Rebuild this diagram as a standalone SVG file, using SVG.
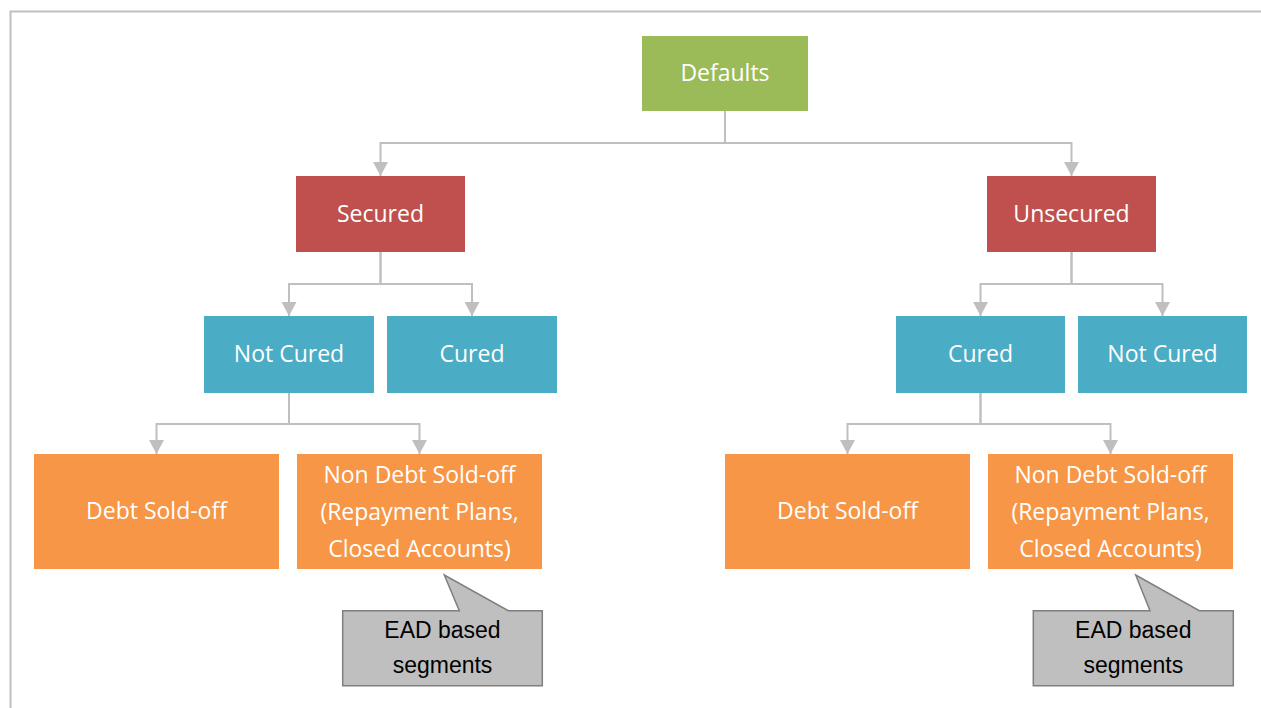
<svg xmlns="http://www.w3.org/2000/svg" width="1261" height="708" viewBox="0 0 1261 708">
<style>
.t{font-family:"Open Sans","Liberation Sans",sans-serif;font-size:23px;fill:#FFFFFF;text-anchor:middle}
.c{font-family:"Liberation Sans",Arial,sans-serif;font-size:23px;fill:#000000;text-anchor:middle}
.green{fill:#9BBB59}
.red{fill:#C0504D}
.blue{fill:#4BACC6}
.orange{fill:#F79646}
.call{fill:#BFBFBF;stroke:#7F7F7F;stroke-width:1.5}
.conn{fill:none;stroke:#BFBFBF;stroke-width:2;marker-end:url(#arr)}
</style>
<defs>
<marker id="arr" viewBox="0 0 14 15" refX="14" refY="7.5" markerWidth="14" markerHeight="15" markerUnits="userSpaceOnUse" orient="auto">
<path d="M0,0 L14,7.5 L0,15 Z" fill="#BFBFBF"/>
</marker>
</defs>
<rect width="1261" height="708" fill="#FFFFFF"/>
<path d="M10.5,708 L10.5,11.5 L1261,11.5" fill="none" stroke="#BFBFBF" stroke-width="2"/>

<g id="connectors">
<path class="conn" d="M725,111 V143 H380.5 V176"/>
<path class="conn" d="M725,111 V143 H1071.5 V176"/>
<path class="conn" d="M380.5,252 V284 H289 V316"/>
<path class="conn" d="M380.5,252 V284 H472 V316"/>
<path class="conn" d="M1071.5,252 V284 H980.5 V316"/>
<path class="conn" d="M1071.5,252 V284 H1162.5 V316"/>
<path class="conn" d="M289,393 V424 H156.5 V454"/>
<path class="conn" d="M289,393 V424 H419.5 V454"/>
<path class="conn" d="M980.5,393 V424 H847.5 V454"/>
<path class="conn" d="M980.5,393 V424 H1110.5 V454"/>
</g>

<g id="defaults"><rect class="green" x="642" y="36" width="166" height="75"/><text class="t" x="725" y="81">Defaults</text></g>
<g id="secured"><rect class="red" x="296" y="176" width="169" height="76"/><text class="t" x="380.5" y="221.5">Secured</text></g>
<g id="unsecured"><rect class="red" x="987" y="176" width="169" height="76"/><text class="t" x="1071.5" y="221.5">Unsecured</text></g>
<g id="notcured-left"><rect class="blue" x="204" y="316" width="170" height="77"/><text class="t" x="289" y="362">Not Cured</text></g>
<g id="cured-left"><rect class="blue" x="387" y="316" width="170" height="77"/><text class="t" x="472" y="362">Cured</text></g>
<g id="cured-right"><rect class="blue" x="896" y="316" width="169" height="77"/><text class="t" x="980.5" y="362">Cured</text></g>
<g id="notcured-right"><rect class="blue" x="1078" y="316" width="169" height="77"/><text class="t" x="1162.5" y="362">Not Cured</text></g>
<g id="debt-left"><rect class="orange" x="34" y="454" width="245" height="115"/><text class="t" x="156.5" y="518.5">Debt Sold-off</text></g>
<g id="nondebt-left"><rect class="orange" x="297" y="454" width="245" height="115"/><text class="t" x="419.5" y="482.5">Non Debt Sold-off</text><text class="t" x="419.5" y="520">(Repayment Plans,</text><text class="t" x="419.5" y="557">Closed Accounts)</text></g>
<g id="debt-right"><rect class="orange" x="725" y="454" width="245" height="115"/><text class="t" x="847.5" y="518.5">Debt Sold-off</text></g>
<g id="nondebt-right"><rect class="orange" x="988" y="454" width="245" height="115"/><text class="t" x="1110.5" y="482.5">Non Debt Sold-off</text><text class="t" x="1110.5" y="520">(Repayment Plans,</text><text class="t" x="1110.5" y="557">Closed Accounts)</text></g>

<g id="callout-left"><path class="call" d="M342.7,610.7 H459.3 L444.3,575 L508.3,610.7 H542.3 V685.7 H342.7 Z"/><text class="c" x="442.5" y="638">EAD based</text><text class="c" x="442.5" y="672.5">segments</text></g>
<g id="callout-right"><path class="call" d="M1033.3,610.7 H1150 L1135.7,575 L1199.3,610.7 H1233.3 V685.7 H1033.3 Z"/><text class="c" x="1133.3" y="638">EAD based</text><text class="c" x="1133.3" y="672.5">segments</text></g>
</svg>
